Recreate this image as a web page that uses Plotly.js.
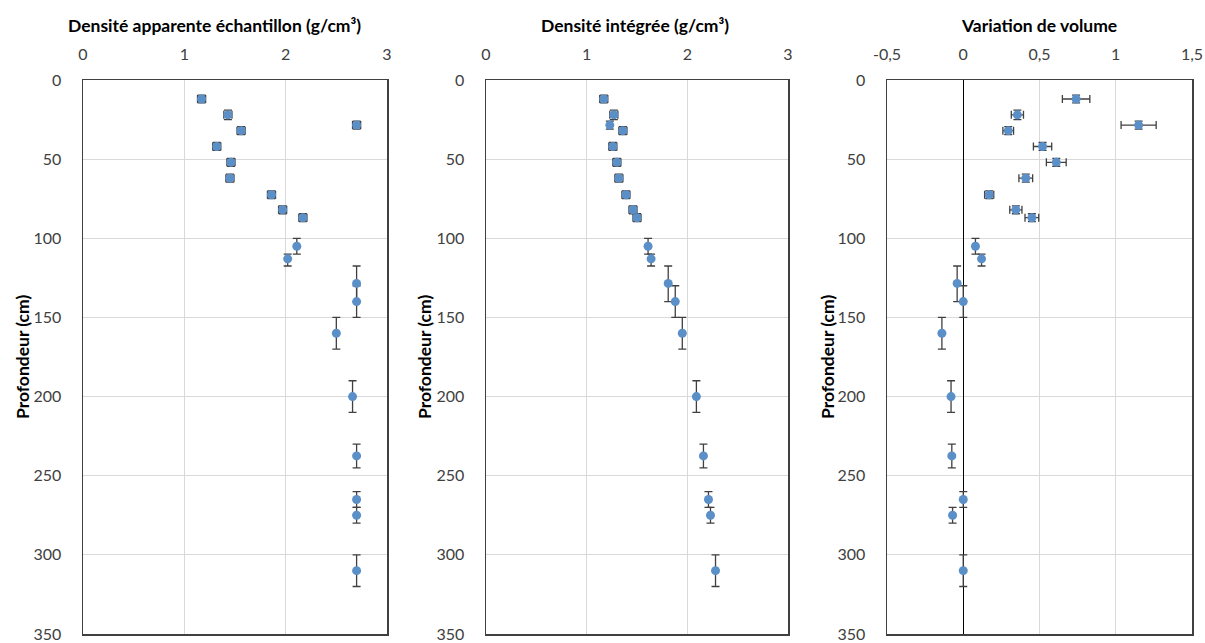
<!DOCTYPE html>
<html>
<head>
<meta charset="utf-8">
<script src="https://cdn.plot.ly/plotly-3.0.1.min.js"></script>
<style>html,body{margin:0;padding:0;background:#fff;}#chart{width:1205px;height:643px;}</style>
</head>
<body>
<div id="chart"></div>
<script>
// Depth (cm) of each sample and its depth interval (up / down)
const depth      = [12, 22, 28.5, 32, 42, 52, 62, 72.5, 82, 87, 105, 113, 128.5, 140, 160, 200, 237.5, 265, 275, 310];
const depthErrUp = [2.5, 3, 2.5, 2.5, 2.5, 2.5, 2.5, 2.5, 2.5, 2.5, 5, 3, 11, 10, 10, 10, 7.5, 5, 5, 10];
const depthErrDn = [2.5, 3, 2.5, 2.5, 2.5, 2.5, 2.5, 2.5, 2.5, 2.5, 5, 4.5, 11.5, 10, 10, 10, 7.5, 5, 5, 10];

// Panel 1: Densité apparente échantillon
const densApp    = [1.17, 1.43, 2.70, 1.56, 1.32, 1.46, 1.45, 1.86, 1.97, 2.17, 2.11, 2.02, 2.70, 2.70, 2.50, 2.66, 2.70, 2.70, 2.70, 2.70];
const densAppErr = [0.04, 0.04, 0.04, 0.04, 0.04, 0.04, 0.04, 0.04, 0.04, 0.04, 0, 0, 0, 0, 0, 0, 0, 0, 0, 0];

// Panel 2: Densité intégrée
const densInt    = [1.17, 1.27, 1.23, 1.36, 1.26, 1.30, 1.32, 1.39, 1.46, 1.50, 1.61, 1.64, 1.81, 1.88, 1.95, 2.09, 2.16, 2.21, 2.23, 2.28];
const densIntErr = [0.04, 0.04, 0.02, 0.04, 0.04, 0.04, 0.04, 0.04, 0.04, 0.04, 0, 0, 0, 0, 0, 0, 0, 0, 0, 0];

// Panel 3: Variation de volume
const volVar     = [0.74, 0.355, 1.15, 0.295, 0.52, 0.61, 0.41, 0.17, 0.345, 0.45, 0.08, 0.12, -0.04, 0.0, -0.14, -0.08, -0.075, 0.0, -0.07, 0.0];
const volVarErr  = [0.09, 0.04, 0.115, 0.035, 0.06, 0.065, 0.045, 0.03, 0.04, 0.045, 0, 0, 0, 0, 0, 0, 0, 0, 0, 0];

// Tick labels
const densTicks   = [0, 1, 2, 3];
const volTicks    = [-0.5, 0, 0.5, 1, 1.5];
const volTickText = ['-0,5', '0', '0,5', '1', '1,5'];
const depthTicks  = [0, 50, 100, 150, 200, 250, 300, 350];

const titles = ['Densité apparente échantillon (g/cm³)', 'Densité intégrée (g/cm³)', 'Variation de volume'];
const yTitle = 'Profondeur (cm)';

const FONT = 'Lato, "Open Sans", sans-serif';
const markerColor = '#5b8fc8';
const errColor = '#404040';

function trace(x, xerr, n) {
  return {
    type: 'scatter', mode: 'markers',
    x: x, y: depth,
    xaxis: 'x' + (n === 1 ? '' : n), yaxis: 'y' + (n === 1 ? '' : n),
    marker: {color: markerColor, size: 9, symbol: 'circle'},
    error_y: {type: 'data', symmetric: false, array: depthErrDn, arrayminus: depthErrUp,
              color: errColor, thickness: 1.3, width: 4},
    error_x: {type: 'data', array: xerr, color: errColor, thickness: 1.3, width: 4},
    showlegend: false, hoverinfo: 'x+y'
  };
}

const data = [trace(densApp, densAppErr, 1), trace(densInt, densIntErr, 2), trace(volVar, volVarErr, 3)];

const H = 643, W = 1205;
const yDom = [(H - 634) / H, (H - 80) / H];
const xDoms = [[83 / W, 387 / W], [486 / W, 788 / W], [887 / W, 1192 / W]];

function xax(i, range, vals, text) {
  return {
    domain: xDoms[i], anchor: 'y' + (i === 0 ? '' : i + 1), side: 'top',
    range: range, tickmode: 'array', tickvals: vals, ticktext: text,
    showgrid: true, gridcolor: '#d9d9d9', gridwidth: 1,
    zeroline: i === 2, zerolinecolor: '#000', zerolinewidth: 1,
    showline: true, mirror: true, linecolor: '#404040', linewidth: 1.5,
    ticks: 'outside', ticklen: 12, tickcolor: 'rgba(0,0,0,0)',
    tickfont: {family: FONT, size: 16, color: '#404040'},
    ticklabeloverflow: 'allow',
    fixedrange: true
  };
}
function yax(i) {
  return {
    domain: yDom, anchor: 'x' + (i === 0 ? '' : i + 1),
    range: [350, 0], tickmode: 'array', tickvals: depthTicks,
    showgrid: true, gridcolor: '#d9d9d9', gridwidth: 1, zeroline: false,
    showline: true, mirror: true, linecolor: '#404040', linewidth: 1.5,
    ticks: 'outside', ticklen: 17, tickcolor: 'rgba(0,0,0,0)',
    tickfont: {family: FONT, size: 16, color: '#404040'},
    ticklabeloverflow: 'allow',
    fixedrange: true
  };
}

const titleX = [214, 635, 1039];
const yTitleX = [22, 424, 827];
const annotations = [];
for (let i = 0; i < 3; i++) {
  annotations.push({xref: 'paper', yref: 'paper', x: titleX[i] / W, y: 1 - 25 / H,
    text: '<b>' + titles[i] + '</b>', showarrow: false, xanchor: 'center', yanchor: 'middle',
    font: {family: FONT, size: 17.5, color: '#000'}});
  annotations.push({xref: 'paper', yref: 'paper', x: yTitleX[i] / W, y: 1 - 357 / H,
    text: '<b>' + yTitle + '</b>', showarrow: false, textangle: -90, xanchor: 'center', yanchor: 'middle',
    font: {family: FONT, size: 17.5, color: '#000'}});
}

const layout = {
  width: W, height: H,
  margin: {l: 0, r: 0, t: 0, b: 0},
  paper_bgcolor: '#fff', plot_bgcolor: '#fff',
  xaxis: xax(0, [0, 3], densTicks), yaxis: yax(0),
  xaxis2: xax(1, [0, 3], densTicks), yaxis2: yax(1),
  xaxis3: xax(2, [-0.5, 1.5], volTicks, volTickText), yaxis3: yax(2),
  annotations: annotations,
  showlegend: false
};

Plotly.newPlot('chart', data, layout, {staticPlot: true, displayModeBar: false});
</script>
</body>
</html>
